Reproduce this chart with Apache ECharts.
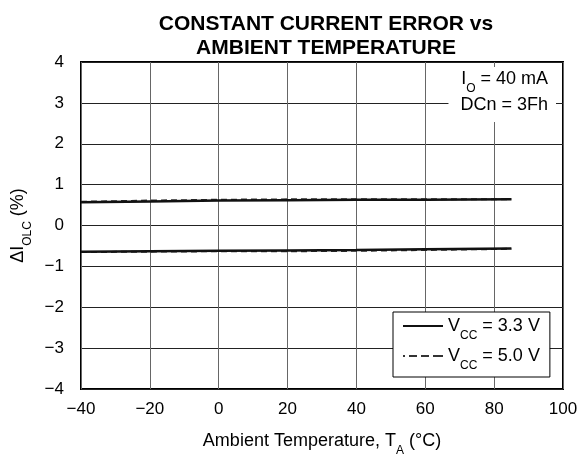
<!DOCTYPE html>
<html><head><meta charset="utf-8">
<script src="https://cdn.jsdelivr.net/npm/echarts@6/dist/echarts.min.js"></script>
<style>html,body{margin:0;padding:0;background:#fff}#c{width:578px;height:454px}</style>
</head><body><div id="c"></div>
<script>
var temps = [-40, -20, 0, 20, 40, 60, 85];
var solidUpper = [0.57, 0.59, 0.61, 0.62, 0.63, 0.63, 0.64];
var dashedUpper = [0.58, 0.61, 0.63, 0.64, 0.64, 0.64, 0.64];
var solidLower = [-0.64, -0.63, -0.62, -0.61, -0.60, -0.58, -0.56];
var dashedLower = [-0.65, -0.64, -0.63, -0.63, -0.62, -0.60, -0.57];
var xTicks = [-40, -20, 0, 20, 40, 60, 80, 100];
var yTicks = [-4, -3, -2, -1, 0, 1, 2, 3, 4];

function pairs(xs, ys){ return xs.map(function(x,i){return [x, ys[i]];}); }
function fmt(v){ return v < 0 ? '\u2212' + Math.abs(v) : String(v); }
var F = 'Liberation Sans, Arial, sans-serif';
var FS = 17;
var txt = {fontFamily: F, fontSize: 18, fontWeight: 'normal', color: '#000'};
var sub = {fontFamily: F, fontSize: 12, fontWeight: 'normal', color: '#000', verticalAlign: 'bottom', padding: [0,0,-7,0]};

var chart = echarts.init(document.getElementById('c'));
chart.setOption({
  animation: false,
  title: [{
    text: 'CONSTANT CURRENT ERROR vs\nAMBIENT TEMPERATURE',
    left: 321, top: 7, textAlign: 'center',
    textStyle: {fontFamily: F, fontWeight: 'bold', fontSize: 21, lineHeight: 24, color: '#000'}
  }, {
    text: '{a|I}{s|O}{a| = 40 mA}',
    right: 22, top: 67,
    backgroundColor: '#fff', padding: [3, 8, 3, 8],
    textStyle: {rich: {a: txt, s: sub}}
  }, {
    text: '{a|DCn = 3Fh}',
    right: 22, top: 93,
    backgroundColor: '#fff', padding: [3, 8, 8, 12],
    textStyle: {rich: {a: txt}}
  }],
  grid: {left: 81, right: 15, top: 62, bottom: 65, outerBoundsMode: 'none', containLabel: false,
         show: true, borderColor: '#000', borderWidth: 2},
  legend: {
    orient: 'vertical', left: 393, top: 312,
    backgroundColor: '#fff', borderColor: '#000', borderWidth: 1, borderRadius: 0,
    padding: [5, 10, 5, 10], itemGap: 5, itemWidth: 40, itemHeight: 2,
    data: [
      {name: 's33', icon: 'path://M0,0H40V2H0Z'},
      {name: 's50', icon: 'path://M0,0H2V2H0Z M6,0H14V2H6Z M18,0H26V2H18Z M30,0H40V2H30Z'}
    ],
    formatter: function(n){ return n === 's33' ? '{a|V}{s|CC}{a| = 3.3 V}' : '{a|V}{s|CC}{a| = 5.0 V}'; },
    textStyle: {rich: {a: txt, s: sub}}
  },
  xAxis: {
    type: 'value', min: -40, max: 100, interval: 20,
    name: '{a|Ambient Temperature, T}{s|A}{a| (\u00b0C)}', nameLocation: 'middle', nameGap: 43,
    nameTextStyle: {rich: {a: txt, s: sub}},
    axisLine: {show: false}, axisTick: {show: false},
    axisLabel: {fontFamily: F, fontSize: FS, color: '#000', margin: 12, formatter: fmt},
    splitLine: {show: true, lineStyle: {color: '#666', width: 1}}
  },
  yAxis: {
    type: 'value', min: -4, max: 4, interval: 1,
    name: '{a|\u0394I}{s|OLC}{a| (%)}', nameLocation: 'middle', nameGap: 46, nameRotate: 90,
    nameTextStyle: {rich: {a: txt, s: sub}},
    axisLine: {show: false}, axisTick: {show: false},
    axisLabel: {fontFamily: F, fontSize: FS, color: '#000', margin: 17, formatter: fmt},
    splitLine: {show: true, lineStyle: {color: '#222', width: 1}}
  },
  series: [
    {name: 's33', type: 'line', data: pairs(temps, solidUpper), symbol: 'none', z: 3,
     lineStyle: {color: '#111', width: 2.5, type: 'solid'}, itemStyle: {color: '#111'}},
    {name: 's33', type: 'line', data: pairs(temps, solidLower), symbol: 'none', z: 3,
     lineStyle: {color: '#111', width: 2.5, type: 'solid'}, itemStyle: {color: '#111'}},
    {name: 's50', type: 'line', data: pairs(temps, dashedUpper), symbol: 'none', z: 2,
     lineStyle: {color: '#333', width: 2, type: [6, 4]}, itemStyle: {color: '#333'}},
    {name: 's50', type: 'line', data: pairs(temps, dashedLower), symbol: 'none', z: 2,
     lineStyle: {color: '#333', width: 2, type: [6, 4]}, itemStyle: {color: '#333'}}
  ]
});
</script></body></html>
